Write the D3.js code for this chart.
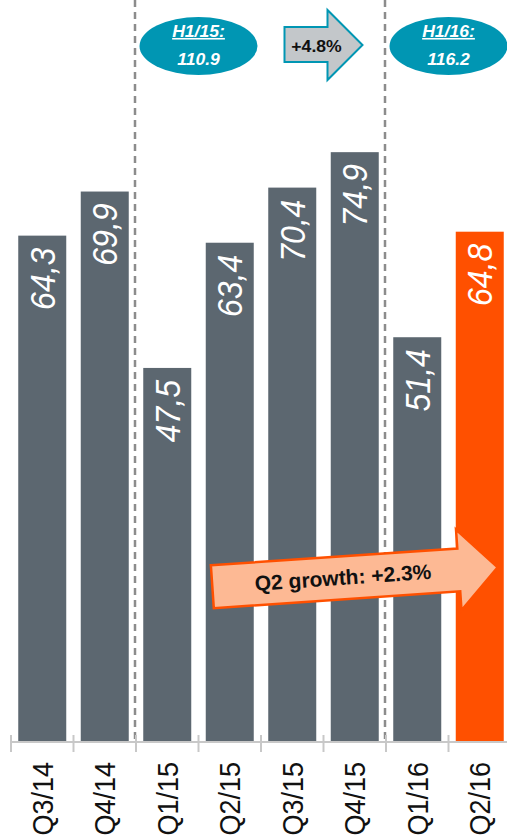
<!DOCTYPE html>
<html>
<head>
<meta charset="utf-8">
<script src="https://cdn.jsdelivr.net/npm/d3@7/dist/d3.min.js"></script>
<style>
  html, body { margin: 0; padding: 0; background: #fff; }
  svg { display: block; font-family: "Liberation Sans", Arial, Helvetica, sans-serif; }
</style>
</head>
<body>
<svg id="chart" width="507" height="839"></svg>
<script>
// Quarterly revenue
const quarters = ["Q3/14", "Q4/14", "Q1/15", "Q2/15", "Q3/15", "Q4/15", "Q1/16", "Q2/16"];
const revenue = [64.3, 69.9, 47.5, 63.4, 70.4, 74.9, 51.4, 64.8];
const highlightQuarter = "Q2/16";

// Half-year totals (H1 = Q1 + Q2)
const halfLabels = ["H1/15:", "H1/16:"];
const halfValues = [110.9, 116.2];
const halfQuarters = [["Q1/15", "Q2/15"], ["Q1/16", "Q2/16"]];
const halfGrowth = "+4.8%";
const q2Growth = "Q2 growth: +2.3%";

// Year separators are drawn before these quarters
const separators = ["Q1/15", "Q1/16"];

const W = 507, H = 839;
const baseY = 742;
const GRAY = "#5c6770", ORANGE = "#ff5000", TEAL = "#0096b3";

const svg = d3.select("#chart");

const x = d3.scaleBand().domain(quarters).range([11, 511])
  .paddingInner(0.232).paddingOuter(0.116);
const y = d3.scaleLinear().domain([0, 80]).range([baseY, baseY - 80 * 7.875]);
const fmt = d3.formatLocale({decimal: ",", thousands: ".", grouping: [3], currency: ["", ""]}).format(".1f");
const boundary = q => x(q) - x.step() * x.paddingInner() / 2;
const center = q => x(q) + x.bandwidth() / 2;

// Bars
svg.append("g").selectAll("rect").data(quarters).join("rect")
  .attr("x", d => x(d))
  .attr("y", (d, i) => y(revenue[i]))
  .attr("width", x.bandwidth())
  .attr("height", (d, i) => baseY - y(revenue[i]))
  .attr("fill", d => d === highlightQuarter ? ORANGE : GRAY);

// Value labels inside bars, rotated
svg.append("g").selectAll("text").data(quarters).join("text")
  .attr("transform", (d, i) => `translate(${center(d)},${y(revenue[i]) + 12}) rotate(-90) scale(1,1.08)`)
  .attr("text-anchor", "end")
  .attr("dy", "0.36em")
  .attr("fill", "#fff")
  .attr("font-size", 32)
  .attr("font-style", "italic")
  .text((d, i) => fmt(revenue[i]));

// Dashed year separators
svg.append("g").selectAll("line").data(separators).join("line")
  .attr("x1", d => boundary(d) - 1).attr("x2", d => boundary(d) - 1)
  .attr("y1", 0).attr("y2", baseY)
  .attr("stroke", "#8c8c8c").attr("stroke-width", 2.5)
  .attr("stroke-dasharray", "7,5");

// Axis line with ticks at band boundaries
const axisG = svg.append("g");
axisG.append("line").attr("x1", 10).attr("x2", W).attr("y1", baseY).attr("y2", baseY)
  .attr("stroke", "#c8c8c8").attr("stroke-width", 2);
axisG.selectAll("line.tick").data(quarters).join("line").attr("class", "tick")
  .attr("x1", d => boundary(d)).attr("x2", d => boundary(d))
  .attr("y1", baseY - 7).attr("y2", baseY + 10)
  .attr("stroke", "#c8c8c8").attr("stroke-width", 2);

// Category labels
const labelAxis = d3.axisBottom(x).tickSize(0).tickPadding(0);
const lab = svg.append("g").attr("transform", `translate(0,${baseY})`).call(labelAxis);
lab.select(".domain").remove();
lab.selectAll("text")
  .attr("transform", "translate(0,20) rotate(-90) scale(1,1.06)")
  .attr("x", 0).attr("y", 0).attr("dy", "0.36em")
  .attr("text-anchor", "end")
  .attr("font-size", 27)
  .attr("font-family", "Liberation Sans, Arial, sans-serif")
  .attr("fill", "#111");

// Half-year bubbles
const halfCx = halfQuarters.map(p => (center(p[0]) + center(p[1])) / 2);
const bubbles = svg.append("g").selectAll("g").data(halfLabels).join("g")
  .attr("transform", (d, i) => `translate(${halfCx[i]},46)`);
bubbles.append("ellipse").attr("rx", 59).attr("ry", 29).attr("fill", TEAL);
bubbles.append("text")
  .attr("transform", "translate(0,37) scale(1.1,1)".replace("37", "-9"))
  .attr("text-anchor", "middle")
  .attr("fill", "#fff").attr("font-size", 16).attr("font-weight", "bold").attr("font-style", "italic")
  .attr("text-decoration", "underline")
  .text(d => d);
bubbles.append("text")
  .attr("transform", "translate(0,19) scale(1.1,1)")
  .attr("text-anchor", "middle")
  .attr("fill", "#fff").attr("font-size", 16).attr("font-weight", "bold").attr("font-style", "italic")
  .text((d, i) => halfValues[i].toFixed(1));

// Growth arrow between the bubbles
const arrowCx = (halfCx[0] + halfCx[1]) / 2;
const arrowPts = [[-39, -18], [4, -18], [4, -35], [39, 0], [4, 35], [4, 17], [-39, 17]];
const arrowG = svg.append("g").attr("transform", `translate(${arrowCx},45)`);
arrowG.append("path")
  .attr("d", d3.line()(arrowPts) + "Z")
  .attr("fill", "#c3c7ca").attr("stroke", TEAL).attr("stroke-width", 2);
arrowG.append("text")
  .attr("transform", "translate(-7,7) scale(1.1,1)")
  .attr("text-anchor", "middle")
  .attr("font-size", 16).attr("font-weight", "bold").attr("fill", "#111")
  .text(halfGrowth);

// Quarter-on-quarter growth arrow
const bigPts = [[-143, -21.5], [104, -21.5], [104, -40.5], [143, 0], [104, 40.5], [104, 21.5], [-143, 21.5]];
const bigG = svg.append("g").attr("transform", "translate(355,577) rotate(-3.9)");
bigG.append("path")
  .attr("d", d3.line()(bigPts) + "Z")
  .attr("fill", "#fdb994").attr("stroke", ORANGE).attr("stroke-width", 2.5);
bigG.append("text")
  .attr("x", -12).attr("y", 7)
  .attr("text-anchor", "middle")
  .attr("font-size", 21).attr("font-weight", "bold").attr("fill", "#111")
  .text(q2Growth);
</script>
</body>
</html>
